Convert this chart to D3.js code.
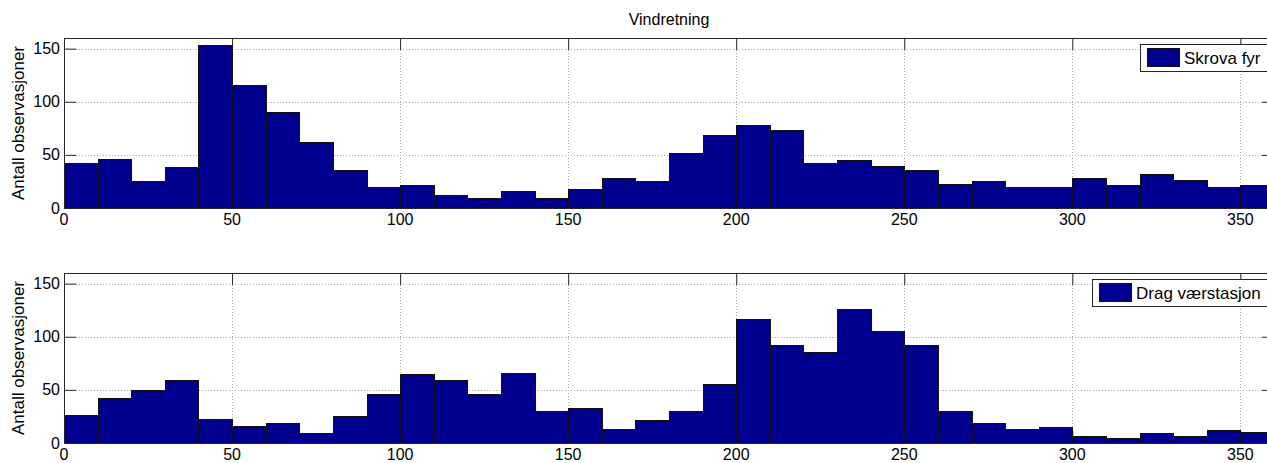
<!DOCTYPE html>
<html>
<head>
<meta charset="utf-8">
<script src="https://cdn.jsdelivr.net/npm/d3@7"></script>
<style>
  body { margin: 0; background: #fff; }
  text { font-family: "Liberation Sans", Arial, Helvetica, sans-serif; fill: #000; }
</style>
</head>
<body>
<div id="okvir"></div>
<script>
// vindsektorer (start på hver 10-graders bin)
const sektorer = [0, 10, 20, 30, 40, 50, 60, 70, 80, 90, 100, 110, 120, 130, 140, 150, 160, 170,
                  180, 190, 200, 210, 220, 230, 240, 250, 260, 270, 280, 290, 300, 310, 320, 330, 340, 350];
const binBredde = 10;

// antall observasjoner per sektor
const skrovaFyr = [42, 46, 25, 39, 153, 116, 90, 62, 36, 20, 22, 12, 9, 16, 9, 18, 28, 25,
                   52, 69, 78, 73, 42, 45, 40, 36, 23, 25, 20, 20, 28, 22, 32, 26, 20, 22];
const dragVaerstasjon = [26, 42, 50, 59, 23, 16, 19, 9, 25, 46, 65, 59, 46, 66, 30, 33, 13, 22,
                         30, 56, 117, 92, 86, 126, 105, 92, 30, 19, 13, 15, 7, 5, 9, 7, 12, 10];

const xTikker = [0, 50, 100, 150, 200, 250, 300, 350];
const yTikker = [0, 50, 100, 150];
const xDomene = [0, 360];
const yDomene = [0, 160];

const tittel = "Vindretning";
const yTekst = "Antall observasjoner";
const stasjoner = ["Skrova fyr", "Drag værstasjon"];

function crtajHistogram() {
    const dim = {
        sirina: 1267,
        visina: 463,
        left: 64,
        right: 1274,   // aksen går litt utenfor bildet
        panelVisina: 170,
        panelTop: [38, 273],
        tick: 12
    };
    const farge = "#00008f";

    const svg = d3.select("#okvir")
        .append("svg")
            .attr("width", dim.sirina)
            .attr("height", dim.visina);

    const xSkala = d3.scaleLinear()
        .domain(xDomene)
        .range([dim.left, dim.right]);

    svg.append("text")
        .attr("x", (dim.left + dim.right) / 2)
        .attr("y", 25)
        .attr("text-anchor", "middle")
        .style("font-size", "16px")
        .text(tittel);

    const serier = [skrovaFyr, dragVaerstasjon];

    serier.forEach((verdier, i) => {
        const top = dim.panelTop[i];
        const bunn = top + dim.panelVisina;

        const ySkala = d3.scaleLinear()
            .domain(yDomene)
            .range([bunn, top]);

        const g = svg.append("g");

        // rutenett (prikket)
        g.selectAll(".gx")
            .data(xTikker.filter(d => d > xDomene[0]))
            .join("line")
                .attr("x1", d => Math.round(xSkala(d)) + 0.5)
                .attr("x2", d => Math.round(xSkala(d)) + 0.5)
                .attr("y1", top)
                .attr("y2", bunn)
                .attr("stroke", "#a6a6a6")
                .attr("stroke-dasharray", "1,2");
        g.selectAll(".gy")
            .data(yTikker.filter(d => d > yDomene[0]))
            .join("line")
                .attr("x1", dim.left)
                .attr("x2", dim.right)
                .attr("y1", d => Math.round(ySkala(d)) + 0.5)
                .attr("y2", d => Math.round(ySkala(d)) + 0.5)
                .attr("stroke", "#a6a6a6")
                .attr("stroke-dasharray", "1,2");

        // akser (ramme + tikker innover)
        const xAkseBunn = d3.axisBottom(xSkala).tickValues(xTikker).tickSize(-dim.tick).tickFormat("");
        const xAkseTop = d3.axisTop(xSkala).tickValues(xTikker).tickSize(-dim.tick).tickFormat("");
        const yAkseV = d3.axisLeft(ySkala).tickValues(yTikker).tickSize(-dim.tick).tickFormat("");
        const yAkseH = d3.axisRight(ySkala).tickValues(yTikker).tickSize(-dim.tick).tickFormat("");

        const akser = [
            [xAkseBunn, `translate(0,${bunn})`],
            [xAkseTop, `translate(0,${top})`],
            [yAkseV, `translate(${dim.left},0)`],
            [yAkseH, `translate(${dim.right},0)`]
        ];
        akser.forEach(([gen, tr]) => {
            const a = g.append("g").attr("transform", tr).call(gen);
            a.select(".domain").remove();
            a.selectAll("line").attr("stroke", "#262626");
        });

        // søyler
        g.selectAll("rect.bar")
            .data(sektorer.map((s, j) => ({ s: s, v: verdier[j] })))
            .join("rect")
                .attr("class", "bar")
                .attr("x", d => Math.round(xSkala(d.s)) + 0.5)
                .attr("width", d => Math.round(xSkala(d.s + binBredde)) - Math.round(xSkala(d.s)))
                .attr("y", d => Math.round(ySkala(d.v)) + 0.5)
                .attr("height", d => Math.round(ySkala(0)) - Math.round(ySkala(d.v)))
                .attr("fill", farge)
                .attr("stroke", "#111")
                .attr("stroke-width", 1);

        // ramme
        g.append("rect")
            .attr("x", dim.left + 0.5)
            .attr("y", top + 0.5)
            .attr("width", dim.right - dim.left)
            .attr("height", dim.panelVisina)
            .attr("fill", "none")
            .attr("stroke", "#262626");

        // tikketekster
        g.selectAll(".xl")
            .data(xTikker)
            .join("text")
                .attr("x", d => xSkala(d))
                .attr("y", bunn + 17)
                .attr("text-anchor", "middle")
                .style("font-size", "16px")
                .text(d => d);
        g.selectAll(".yl")
            .data(yTikker)
            .join("text")
                .attr("x", dim.left - 4)
                .attr("y", d => ySkala(d))
                .attr("dy", "0.35em")
                .attr("text-anchor", "end")
                .style("font-size", "16px")
                .text(d => d);

        // y-aksetekst
        g.append("text")
            .attr("transform", `translate(24,${(top + bunn) / 2}) rotate(-90)`)
            .attr("text-anchor", "middle")
            .style("font-size", "17px")
            .text(yTekst);

        // legende
        const leg = g.append("g");
        const tekst = leg.append("text")
            .style("font-size", "17px")
            .text(stasjoner[i]);
        const tl = tekst.node().getComputedTextLength();
        const lb = tl + 51;
        const lx = dim.right - 6 - lb;
        const ly = top + 6;
        leg.insert("rect", "text")
            .attr("x", Math.round(lx) + 0.5)
            .attr("y", ly + 0.5)
            .attr("width", Math.round(lb))
            .attr("height", 27)
            .attr("fill", "#fff")
            .attr("stroke", "#262626");
        leg.insert("rect", "text")
            .attr("x", Math.round(lx) + 7.5)
            .attr("y", ly + 4.5)
            .attr("width", 32)
            .attr("height", 18)
            .attr("fill", farge)
            .attr("stroke", "#111");
        tekst
            .attr("x", Math.round(lx) + 44)
            .attr("y", ly + 20);
    });
}

crtajHistogram();
</script>
</body>
</html>
